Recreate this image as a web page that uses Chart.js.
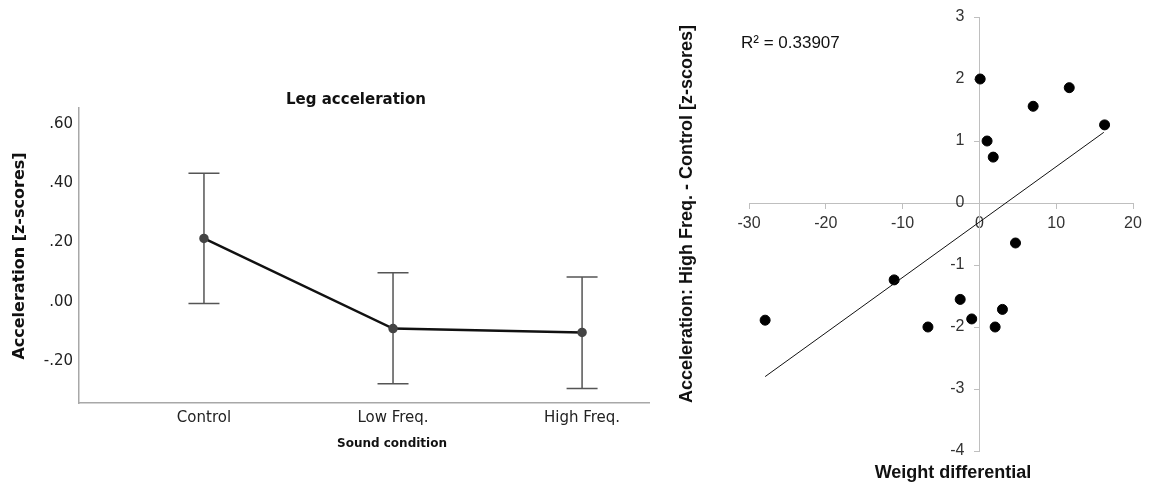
<!DOCTYPE html>
<html><head><meta charset="utf-8">
<script src="https://cdn.jsdelivr.net/npm/chart.js@4.4.1/dist/chart.umd.min.js"></script>
<style>
html,body{margin:0;padding:0;background:#fff;width:1150px;height:483px;overflow:hidden}
#wl{position:absolute;left:0;top:0;width:670px;height:483px}
#wr{position:absolute;left:670px;top:0;width:480px;height:483px}
</style></head><body>
<div id="wl"><canvas id="left"></canvas></div>
<div id="wr"><canvas id="right"></canvas></div>
<script>
// ---- Left chart data ----
const conditions = ['Control', 'Low Freq.', 'High Freq.'];
const meanAccel = [0.214, -0.090, -0.103];
const errLow = [-0.005, -0.276, -0.292];
const errHigh = [0.434, 0.098, 0.084];
const leftYTicks = [-0.2, 0, 0.2, 0.4, 0.6];

// ---- Right chart data ----
const weightDiff = [0.1, 11.7, 7.0, 16.3, 1.0, 1.8, 4.7, -11.1, -2.5, 3.0, -1.0, -27.9, -6.7, 2.05];
const accelDiff = [2.0, 1.86, 1.56, 1.26, 1.0, 0.74, -0.645, -1.24, -1.555, -1.716, -1.87, -1.89, -2.0, -2.0];
const trendX = [-27.9, 16.2];
const trendY = [-2.80, 1.14];
const rSquaredLabel = 'R² = 0.33907';

Chart.defaults.animation = false;

function fmtDot(v) {
  const s = Math.abs(v).toFixed(2).replace(/^0/, '');
  return (v < -1e-9 ? '-' : '') + s;
}

const errorBars = {
  id: 'errorBars',
  beforeDatasetsDraw(chart) {
    const ctx = chart.ctx, xs = chart.scales.x, ys = chart.scales.y;
    ctx.save();
    ctx.strokeStyle = '#555';
    ctx.lineWidth = 1.5;
    const cap = 15.5;
    conditions.forEach((c, i) => {
      const px = xs.getPixelForValue(i);
      const pl = ys.getPixelForValue(errLow[i]);
      const ph = ys.getPixelForValue(errHigh[i]);
      ctx.beginPath();
      ctx.moveTo(px, pl); ctx.lineTo(px, ph);
      ctx.moveTo(px - cap, pl); ctx.lineTo(px + cap, pl);
      ctx.moveTo(px - cap, ph); ctx.lineTo(px + cap, ph);
      ctx.stroke();
    });
    ctx.restore();
  }
};

const leftTexts = {
  id: 'leftTexts',
  afterDraw(chart) {
    const ctx = chart.ctx;
    ctx.save();
    ctx.fillStyle = '#111';
    ctx.textAlign = 'center';
    ctx.textBaseline = 'middle';
    ctx.font = 'bold 15px "DejaVu Sans"';
    ctx.fillText('Leg acceleration', 356, 100);
    ctx.font = 'bold 12px "DejaVu Sans"';
    ctx.fillText('Sound condition', 392, 444);
    ctx.translate(20, 256);
    ctx.rotate(-Math.PI / 2);
    ctx.font = 'bold 16px "DejaVu Sans"';
    ctx.fillText('Acceleration [z-scores]', 0, 0);
    ctx.restore();
  }
};

new Chart(document.getElementById('left'), {
  type: 'line',
  data: {
    datasets: [{
      data: meanAccel.map((v, i) => ({ x: i, y: v })),
      borderColor: '#111',
      borderWidth: 2.5,
      pointRadius: 3.5,
      pointBackgroundColor: '#444',
      pointBorderColor: '#444',
      tension: 0
    }]
  },
  options: {
    responsive: true,
    maintainAspectRatio: false,
    layout: { padding: { left: 0, top: 108, right: 21, bottom: 0 } },
    plugins: { legend: { display: false }, tooltip: { enabled: false } },
    scales: {
      x: {
        type: 'linear',
        min: -0.661, max: 2.354,
        afterBuildTicks(s) { s.ticks = conditions.map((c, i) => ({ value: i })); },
        afterFit(s) { s.height = 80; },
        grid: { display: false, drawTicks: false },
        border: { display: true, color: '#a8a8a8', width: 1.5 },
        ticks: {
          padding: 6,
          color: '#222',
          font: { family: 'DejaVu Sans', size: 15 },
          callback: (v) => conditions[v]
        }
      },
      y: {
        type: 'linear',
        min: -0.341, max: 0.654,
        afterBuildTicks(s) { s.ticks = leftYTicks.map(v => ({ value: v })); },
        afterFit(s) { s.width = 79; },
        grid: { display: false, drawTicks: false },
        border: { display: true, color: '#a8a8a8', width: 1.5 },
        ticks: {
          padding: 6,
          color: '#222',
          font: { family: 'DejaVu Sans', size: 15 },
          callback: (v) => fmtDot(v)
        }
      }
    }
  },
  plugins: [errorBars, leftTexts]
});

const rightTexts = {
  id: 'rightTexts',
  afterLayout(chart) {
    // crossing y-axis labels get no padding from the library; shift them left of the axis
    const s = chart.scales.y;
    if (s && !s._shifted) {
      const orig = s.drawLabels.bind(s);
      s.drawLabels = function (area) {
        const ctx = this.ctx;
        ctx.save();
        ctx.translate(-15, 0);
        orig(area);
        ctx.restore();
      };
      s._shifted = true;
    }
  },
  afterDraw(chart) {
    const ctx = chart.ctx;
    ctx.save();
    ctx.fillStyle = '#111';
    ctx.textBaseline = 'middle';
    ctx.textAlign = 'left';
    ctx.font = '17px "Liberation Sans", Arial';
    ctx.fillText(rSquaredLabel, 71, 43);
    ctx.textAlign = 'center';
    ctx.font = 'bold 18px "Liberation Sans", Arial';
    ctx.fillText('Weight differential', 283, 473);
    ctx.translate(17, 214);
    ctx.rotate(-Math.PI / 2);
    ctx.fillText('Acceleration: High Freq. - Control [z-scores]', 0, 0);
    ctx.restore();
  }
};

new Chart(document.getElementById('right'), {
  type: 'scatter',
  data: {
    datasets: [{
      type: 'line',
      data: trendX.map((x, i) => ({ x: x, y: trendY[i] })),
      borderColor: '#111',
      borderWidth: 1,
      pointRadius: 0,
      fill: false
    }, {
      type: 'scatter',
      data: weightDiff.map((x, i) => ({ x: x, y: accelDiff[i] })),
      pointRadius: 5,
      pointBackgroundColor: '#000',
      pointBorderColor: '#000'
    }]
  },
  options: {
    responsive: true,
    maintainAspectRatio: false,
    layout: { padding: { left: 79, top: 17, right: 17, bottom: 32 } },
    plugins: { legend: { display: false }, tooltip: { enabled: false } },
    scales: {
      x: {
        type: 'linear',
        position: { y: 0 },
        min: -30, max: 20,
        afterFit(s) { s.height = 0; },
        grid: { drawOnChartArea: false, drawTicks: true, tickLength: 5, color: '#bfbfbf' },
        border: { color: '#bfbfbf' },
        ticks: { stepSize: 10, padding: 6, color: '#333', font: { family: 'Liberation Sans', size: 16 } }
      },
      y: {
        type: 'linear',
        position: { x: 0 },
        min: -4, max: 3,
        afterFit(s) { s.width = 0; },
        grid: { drawOnChartArea: false, drawTicks: true, tickLength: 5, color: '#bfbfbf' },
        border: { color: '#bfbfbf' },
        ticks: { stepSize: 1, padding: 6, color: '#333', font: { family: 'Liberation Sans', size: 16 } }
      }
    }
  },
  plugins: [rightTexts]
});
</script>
</body></html>
